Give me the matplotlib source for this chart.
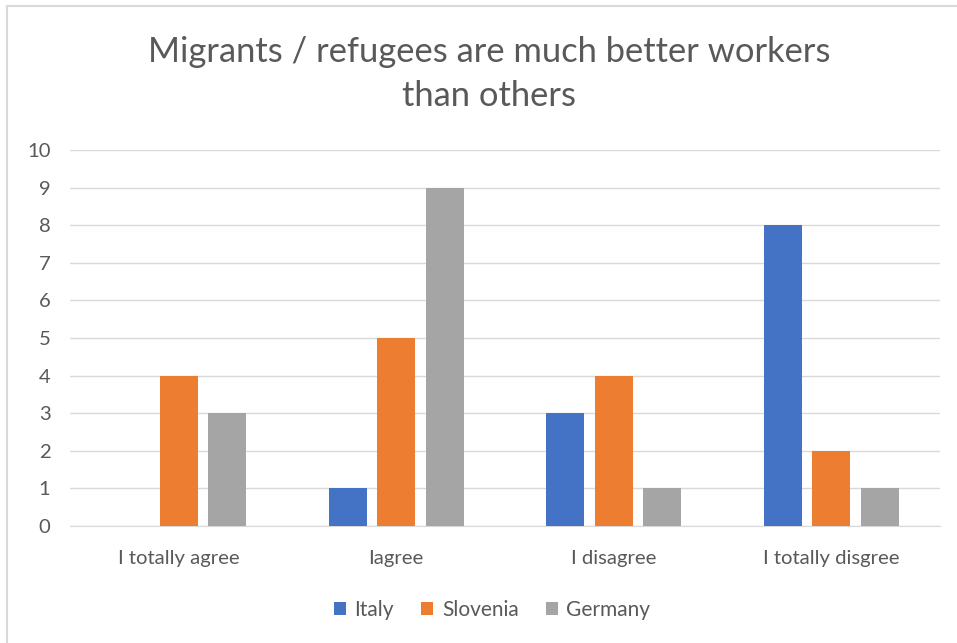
import numpy as np
import matplotlib.pyplot as plt
from matplotlib.patches import Rectangle

plt.rcParams['font.family'] = ['Lato', 'DejaVu Sans']

categories = ['I totally agree', 'Iagree', 'I disagree', 'I totally disgree']
series = ['Italy', 'Slovenia', 'Germany']
italy = [0, 1, 3, 8]
slovenia = [4, 5, 4, 2]
germany = [3, 9, 1, 1]
colors = ['#4472C4', '#ED7D31', '#A5A5A5']
text_color = '#595959'

fig = plt.figure(figsize=(9.57, 6.43), dpi=100)
ax = fig.add_axes([70 / 957, 1 - 526 / 643, 870 / 957, 376 / 643])

x = np.arange(len(categories))
width = 0.175
step = 0.222
for i, (name, vals) in enumerate(zip(series, [italy, slovenia, germany])):
    ax.bar(x + (i - 1) * step, vals, width, color=colors[i], label=name, zorder=3)

ax.set_xlim(-0.5, len(categories) - 0.5)
ax.set_ylim(0, 10)
ax.set_yticks(range(0, 11))
ax.set_xticks(x)
ax.set_xticklabels(categories)
ax.grid(axis='y', color='#D9D9D9', linewidth=1, zorder=0)
for s in ['top', 'right', 'left']:
    ax.spines[s].set_visible(False)
ax.spines['bottom'].set_color('#D9D9D9')
ax.tick_params(axis='both', length=0, colors=text_color, labelsize=14.6)
ax.tick_params(axis='y', pad=14)
ax.tick_params(axis='x', pad=17)

fig.text(489 / 957, 1 - 74 / 643, 'Migrants / refugees are much better workers\nthan others',
         ha='center', va='center', fontsize=24.8, color=text_color, linespacing=1.5)

leg = fig.legend(loc='center', bbox_to_anchor=(492 / 957, 1 - 610 / 643), ncol=3,
                 frameon=False, fontsize=15, handlelength=0.6, handleheight=0.6,
                 handletextpad=0.4, columnspacing=1.3)
for t in leg.get_texts():
    t.set_color(text_color)

# light outer frame of the chart area
fig.patches.append(Rectangle((7 / 957, -0.05), 1.0, 1 - 6 / 643 + 0.05,
                             transform=fig.transFigure, fill=False,
                             edgecolor='#D9D9D9', linewidth=1.5))

fig.savefig('out.png', dpi=100)
